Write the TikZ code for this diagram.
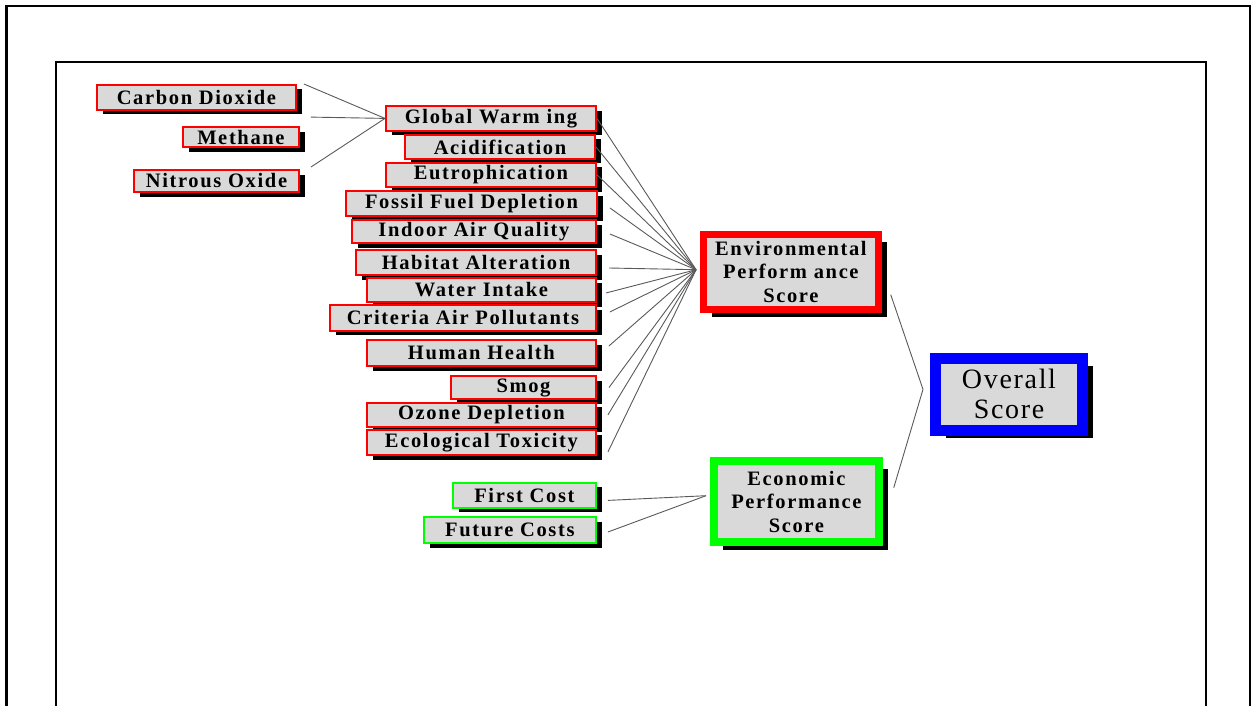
\documentclass[tikz,border=0pt]{standalone}
\usepackage{fontspec}
\setmainfont{Liberation Serif}
\newfontfamily\lblfont{Liberation Serif}[LetterSpace=8]
\newfontfamily\bigfont{Liberation Serif}[LetterSpace=6]
\usetikzlibrary{shadows,calc}
\definecolor{boxgray}{RGB}{217,217,217}
\definecolor{pgreen}{RGB}{0,255,0}
\tikzset{
  lbl/.style={draw=red, line width=2pt, fill=boxgray, inner sep=0pt,
    font=\lblfont\bfseries\fontsize{20.5}{22}\selectfont,
    drop shadow={shadow xshift=6pt, shadow yshift=-4.5pt, fill=black, opacity=1}},
  glbl/.style={lbl, draw=pgreen},
  bigbox/.style={fill=boxgray, inner sep=0pt, align=center,
    font=\lblfont\bfseries\fontsize{20.5}{23.5}\selectfont},
  conn/.style={draw=black!65, line width=0.9pt},
  frame/.style={line width=2.2pt, draw=black}
}
\begin{document}
\begin{tikzpicture}[x=1pt,y=-1pt]
\useasboundingbox (0,0) rectangle (1253,706);
% frames
\draw[frame] (6.5,706) -- (6.5,6) -- (1250,6) -- (1250,706);
\draw[frame] (56,706) -- (56,62) -- (1206,62) -- (1206,706);

% sub-indicators
\node[lbl, minimum width=199, minimum height=25] (cd) at (196.4,97.5) {Carbon Dioxide};
\node[lbl, minimum width=116, minimum height=20] (me) at (240.9,137.4) {Methane};
\node[lbl, minimum width=165, minimum height=22] (no) at (216.5,181) {Nitrous Oxide};

% environmental indicators
\node[lbl, minimum width=210, minimum height=24.7] (gw) at (491,118.4) {Global Warm ing};
\node[lbl, minimum width=190, minimum height=24] (ac) at (500,147) {Acidification};
\node[lbl, minimum width=210, minimum height=24.3] (eu) at (491,174.9) {Eutrophication};
\node[lbl, minimum width=251, minimum height=25] (ff) at (471.5,203.5) {Fossil Fuel Depletion};
\node[lbl, minimum width=244, minimum height=23] (ia) at (473.9,231.5) {Indoor Air Quality};
\node[lbl, minimum width=240, minimum height=24.7] (ha) at (476,262.7) {Habitat Alteration};
\node[lbl, minimum width=229, minimum height=24] (wi) at (481.4,290) {Water Intake};
\node[lbl, minimum width=266, minimum height=25.7] (ca) at (463,317.9) {Criteria Air Pollutants};
\node[lbl, minimum width=229, minimum height=26] (hh) at (481.4,353) {Human Health};
\node[lbl, minimum width=145, minimum height=23] (sm) at (523.5,387.5) {Smog};
\node[lbl, minimum width=229, minimum height=24.3] (oz) at (481.4,414.9) {Ozone Depletion};
\node[lbl, minimum width=229, minimum height=25] (et) at (481.4,442.5) {Ecological Toxicity};

% economic indicators
\node[glbl, minimum width=143, minimum height=25] (fc) at (524.4,495.4) {First Cost};
\node[glbl, minimum width=172, minimum height=26] (fu) at (509.9,530) {Future Costs};

% scores
\node[bigbox, draw=red, line width=7pt, minimum width=174.7, minimum height=75,
  drop shadow={shadow xshift=8.5pt, shadow yshift=-7.5pt, fill=black, opacity=1}]
  (env) at (790.9,271.7) {Environmental\\Perform ance\\Score};
\node[bigbox, draw=pgreen, line width=8pt, minimum width=164.7, minimum height=80.7,
  drop shadow={shadow xshift=9pt, shadow yshift=-8pt, fill=black, opacity=1}]
  (eco) at (796.4,501.7) {Economic\\Performance\\Score};
\node[bigbox, draw=blue, line width=11pt, minimum width=147, minimum height=72,
  font=\bigfont\fontsize{28}{30}\selectfont,
  drop shadow={shadow xshift=10.5pt, shadow yshift=-8pt, fill=black, opacity=1}]
  (ov) at (1009,394.4) {Overall\\Score};

% connectors
\coordinate (gwin) at (gw.west);
\draw[conn] ($(cd.north east)+(7,0)$) -- (gwin);
\draw[conn] ($(me.north east)+(11,-9.3)$) -- (gwin);
\draw[conn] ($(no.north east)+(11,-2)$) -- (gwin);

\coordinate (envin) at ($(env.west)+(-4,-2)$);
\draw[conn] (gw.east) -- (envin);
\draw[conn] (ac.east) -- (envin);
\draw[conn] (eu.east) -- (envin);
\draw[conn] ($(ff.east)+(12,4.5)$) -- (envin);
\draw[conn] ($(ia.east)+(13,2.5)$) -- (envin);
\draw[conn] ($(ha.east)+(12,5.3)$) -- (envin);
\draw[conn] ($(wi.east)+(9,3)$) -- (envin);
\draw[conn] ($(ca.east)+(13,-6)$) -- (envin);
\draw[conn] ($(hh.east)+(12,-7)$) -- (envin);
\draw[conn] ($(sm.east)+(12,0)$) -- (envin);
\draw[conn] ($(oz.east)+(11,0)$) -- (envin);
\draw[conn] ($(et.east)+(11,9.5)$) -- (envin);

\coordinate (ecoin) at ($(eco.west)+(-4,-6)$);
\draw[conn] ($(fc.east)+(11,5)$) -- (ecoin);
\draw[conn] ($(fu.east)+(11,2)$) -- (ecoin);

\coordinate (ovin) at ($(ov.west)+(-7,-5)$);
\draw[conn] ($(env.east)+(9,23)$) -- (ovin);
\draw[conn] ($(eco.east)+(11,-14)$) -- (ovin);
\end{tikzpicture}
\end{document}
